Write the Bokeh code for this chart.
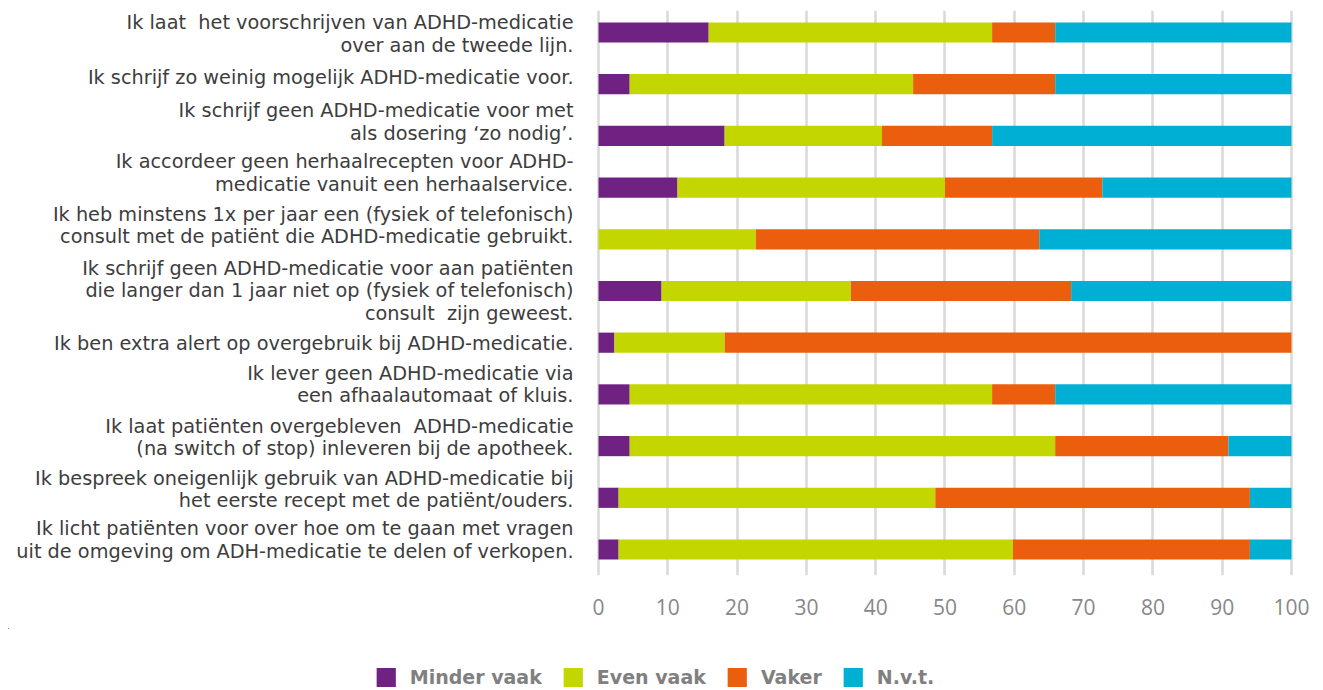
from bokeh.plotting import figure
from bokeh.layouts import column
from bokeh.models import ColumnDataSource, Range1d, FixedTicker, Legend, LegendItem
from bokeh.core.properties import value
from bokeh.embed import file_html
from bokeh.resources import INLINE

NB = "\u00a0"
statements = [
    "Ik laat " + NB + "het voorschrijven van ADHD-medicatie\nover aan de tweede lijn.",
    "Ik schrijf zo weinig mogelijk ADHD-medicatie voor.",
    "Ik schrijf geen ADHD-medicatie voor met\nals dosering \u2018zo nodig\u2019.",
    "Ik accordeer geen herhaalrecepten voor ADHD-\nmedicatie vanuit een herhaalservice.",
    "Ik heb minstens 1x per jaar een (fysiek of telefonisch)\nconsult met de pati\u00ebnt die ADHD-medicatie gebruikt.",
    "Ik schrijf geen ADHD-medicatie voor aan pati\u00ebnten\ndie langer dan 1 jaar niet op (fysiek of telefonisch)\nconsult " + NB + "zijn geweest.",
    "Ik ben extra alert op overgebruik bij ADHD-medicatie.",
    "Ik lever geen ADHD-medicatie via\neen afhaalautomaat of kluis.",
    "Ik laat pati\u00ebnten overgebleven " + NB + "ADHD-medicatie\n(na switch of stop) inleveren bij de apotheek.",
    "Ik bespreek oneigenlijk gebruik van ADHD-medicatie bij\nhet eerste recept met de pati\u00ebnt/ouders.",
    "Ik licht pati\u00ebnten voor over hoe om te gaan met vragen\nuit de omgeving om ADH-medicatie te delen of verkopen.",
]

series = ["Minder vaak", "Even vaak", "Vaker", "N.v.t."]
minder_vaak = [15.9, 4.5, 18.2, 11.4, 0.0, 9.1, 2.3, 4.5, 4.5, 2.9, 2.9]
even_vaak   = [40.9, 40.9, 22.7, 38.6, 22.7, 27.3, 15.9, 52.3, 61.4, 45.7, 56.9]
vaker       = [9.1, 20.5, 15.9, 22.7, 40.9, 31.8, 81.8, 9.1, 25.0, 45.4, 34.2]
nvt         = [34.1, 34.1, 43.2, 27.3, 36.4, 31.8, 0.0, 34.1, 9.1, 6.0, 6.0]

tick_values = [0, 10, 20, 30, 40, 50, 60, 70, 80, 90, 100]

# layout only: vertical pixel nudges of the category labels, as in the original
label_nudge_px = [1.5, -7, -14, -14.5, -14, 0, 1, -10, -8.5, -8.5, -9.5]

colors = ["#6f2282", "#c3d600", "#ea5e0e", "#00b0d4"]
stackers = ["minder", "even", "vaker", "nvt"]

n = len(statements)
ypos = list(range(n, 0, -1))

src = ColumnDataSource(dict(
    y=ypos, label=statements,
    minder=minder_vaak, even=even_vaak, vaker=vaker, nvt=nvt,
    zero=[0] * n, nudge=label_nudge_px,
))

W = 1315
p = figure(width=W, height=628, output_backend="svg", toolbar_location=None,
           x_range=Range1d(-85.14, 101.30), y_range=Range1d(0.497, 11.4255),
           min_border_left=8, min_border_right=15, min_border_top=10, min_border_bottom=53)
p.outline_line_color = None
p.background_fill_color = "white"
p.border_fill_color = "white"

p.hbar_stack(stackers, y="y", height=0.39, color=colors, line_color=None, source=src)

p.text(x="zero", y="y", text="label", source=src, x_offset=-25, y_offset="nudge",
       text_align="right", text_baseline="middle",
       text_font=value("DejaVu Sans"), text_font_size="19.3px",
       text_color="#3d3d3d", text_line_height=0.97)

p.yaxis.visible = False
p.ygrid.visible = False
p.xgrid.ticker = FixedTicker(ticks=tick_values)
p.xgrid.grid_line_color = "#d9d9d9"
p.xgrid.grid_line_width = 2.5
p.xaxis.ticker = FixedTicker(ticks=tick_values)
p.xaxis.axis_line_color = None
p.xaxis.major_tick_line_color = None
p.xaxis.minor_tick_line_color = None
p.xaxis.major_label_standoff = 17
p.xaxis.major_label_text_font = "Open Sans"
p.xaxis.major_label_text_font_size = "21px"
p.xaxis.major_label_text_color = "#888888"

# legend strip below the chart (same stacked bars, kept out of its view)
leg = figure(width=W, height=62, output_backend="svg", toolbar_location=None,
             x_range=Range1d(1000, 1001), y_range=Range1d(-1000, -999),
             min_border_left=0, min_border_right=0, min_border_top=0, min_border_bottom=0)
leg.outline_line_color = None
leg.background_fill_color = "white"
leg.border_fill_color = "white"
leg.axis.visible = False
leg.grid.visible = False
swatches = leg.hbar_stack(stackers, y="y", height=0.39, color=colors, line_color=None, source=src)

legend = Legend(items=[LegendItem(label=s, renderers=[r]) for s, r in zip(series, swatches)],
                orientation="horizontal", location="bottom_center")
legend.glyph_width = 24
legend.glyph_height = 24
legend.label_standoff = 12
legend.spacing = 19
legend.padding = 0
legend.margin = 1
legend.border_line_color = None
legend.background_fill_alpha = 0
legend.label_text_font = "DejaVu Sans"
legend.label_text_font_size = "19px"
legend.label_text_font_style = "bold"
legend.label_text_color = "#808080"
leg.add_layout(legend, "center")

layout = column(p, leg, spacing=0)
open("out.html", "w").write(file_html(layout, INLINE))
